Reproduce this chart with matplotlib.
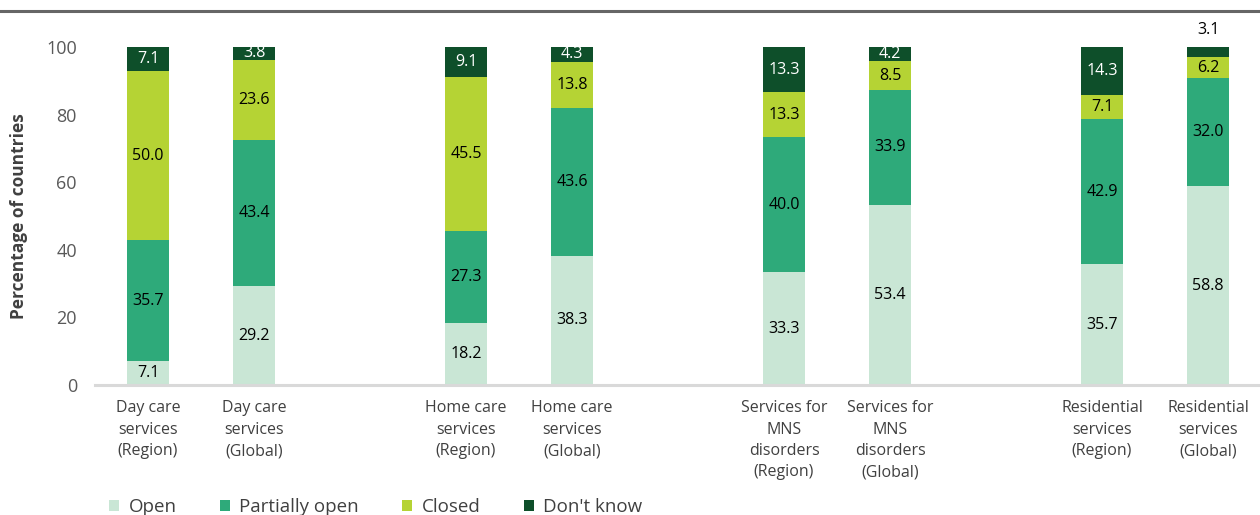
import numpy as np
from matplotlib import pyplot as plt
from matplotlib.lines import Line2D

# Service categories, region vs global.
categories = [
  'Day care\nservices\n(Region)', 'Day care\nservices\n(Global)',
  'Home care\nservices\n(Region)', 'Home care\nservices\n(Global)',
  'Services for\nMNS\ndisorders\n(Region)', 'Services for\nMNS\ndisorders\n(Global)',
  'Residential\nservices\n(Region)', 'Residential\nservices\n(Global)',
]
seriesNames = ['Open', 'Partially open', 'Closed', "Don't know"]
openVals = [7.1, 29.2, 18.2, 38.3, 33.3, 53.4, 35.7, 58.8]
partialVals = [35.7, 43.4, 27.3, 43.6, 40.0, 33.9, 42.9, 32.0]
closedVals = [50.0, 23.6, 45.5, 13.8, 13.3, 8.5, 7.1, 6.2]
unknownVals = [7.1, 3.8, 9.1, 4.3, 13.3, 4.2, 14.3, 3.1]

colors = ['#c9e6d5', '#2eaa7a', '#b5d334', '#0e4f2a']
textColors = ['black', 'black', 'black', 'white']

# Pairs of bars with a gap between groups.
xPos = np.array([0, 1, 3, 4, 6, 7, 9, 10])

fig = plt.figure(figsize=(12.6, 5.15), dpi=100)
plt.rcParams['font.family'] = ['Open Sans', 'DejaVu Sans']
axLeft = 95
ax = fig.add_axes([axLeft / 1260, 1 - 385 / 515, 1 - axLeft / 1260, (385 - 47) / 515])

bottom = np.zeros(len(xPos))
for name, vals, col, tcol in zip(seriesNames,
                                 [openVals, partialVals, closedVals, unknownVals],
                                 colors, textColors):
  vals = np.array(vals)
  ax.bar(xPos, vals, 0.405, bottom=bottom, color=col, label=name)
  for x, b, v in zip(xPos, bottom, vals):
    if name == "Don't know" and v < 3.5:
      # Too thin to hold its label, put it above the bar.
      ax.text(x, 105, f'{v:.1f}', ha='center', va='center', fontsize=11.5,
              color='black', clip_on=False)
    else:
      ax.text(x, b + v / 2, f'{v:.1f}', ha='center', va='center',
              fontsize=11.5, color=tcol)
  bottom += vals

ax.set_xlim((axLeft - 148) / 106, (1260 - 148) / 106)
ax.set_ylim(0, 100)
ax.set_yticks([0, 20, 40, 60, 80, 100])
ax.set_xticks(xPos)
ax.set_xticklabels(categories, fontsize=11.5, color='#404040', linespacing=1.45)
ax.tick_params(axis='x', length=0, pad=11)
ax.tick_params(axis='y', length=0, pad=13, labelsize=13, labelcolor='#595959')
for s in ['top', 'right', 'left']:
  ax.spines[s].set_visible(False)
ax.spines['bottom'].set_color('#d9d9d9')
ax.spines['bottom'].set_linewidth(2.2)

ax.set_ylabel('Percentage of countries', fontsize=12.5, fontweight='bold',
              color='#404040')
ax.yaxis.set_label_coords((28 - axLeft) / (1260 - axLeft), 0.5)

# Rule across the top of the figure.
fig.add_artist(Line2D([0, 1], [1 - 11 / 515, 1 - 11 / 515],
                      color='#666666', linewidth=2.2))

fig.legend(loc='lower left', bbox_to_anchor=(92 / 1260, -0.035), ncol=4,
           frameon=False, fontsize=13.5, handlelength=0.55, handleheight=0.55,
           columnspacing=2.3, handletextpad=0.5, labelcolor='#404040')

fig.savefig('out.png', dpi=100)
